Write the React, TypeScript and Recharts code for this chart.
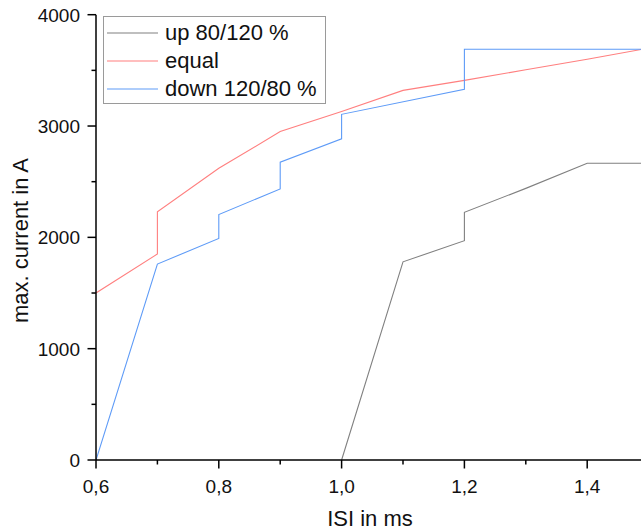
import { LineChart, Line, XAxis, YAxis, Legend } from "recharts";

// ISI (ms) and max. current (A) per series; repeated x values are the vertical steps
const upIsi = [1.0, 1.1, 1.2, 1.2, 1.3, 1.4, 1.5];
const upCurrent = [0, 1780, 1970, 2225, 2440, 2665, 2665];

const equalIsi = [0.6, 0.7, 0.7, 0.8, 0.9, 1.0, 1.1, 1.2, 1.3, 1.4, 1.5];
const equalCurrent = [1500, 1850, 2230, 2620, 2950, 3130, 3320, 3410, 3505, 3600, 3700];

const downIsi = [0.6, 0.7, 0.8, 0.8, 0.9, 0.9, 1.0, 1.0, 1.2, 1.2, 1.5];
const downCurrent = [0, 1760, 1990, 2205, 2435, 2675, 2885, 3105, 3330, 3690, 3690];

const xTicks = [0.6, 0.7, 0.8, 0.9, 1.0, 1.1, 1.2, 1.3, 1.4, 1.5];
const yTicks = [0, 500, 1000, 1500, 2000, 2500, 3000, 3500, 4000];

const seriesNames = ["up 80/120 %", "equal", "down 120/80 %"];
const seriesColors = ["#808080", "#ff7f7f", "#5e9bf7"];

const toPoints = (xs: number[], ys: number[]) => xs.map((x, i) => ({ x, y: ys[i] }));

const FONT = "'Liberation Sans', Arial, sans-serif";

const XTick = (props: any) => {
  const { x, y, payload } = props;
  const major = Math.round(payload.value * 10) % 2 === 0;
  return (
    <g>
      <line x1={x} x2={x} y1={y} y2={y + (major ? 8.5 : 4.5)} stroke="#000" strokeWidth={1.5} />
      {major && (
        <text x={x} y={y + 32.5} textAnchor="middle" fontSize={19} fontFamily={FONT} fill="#111">
          {payload.value.toFixed(1).replace(".", ",")}
        </text>
      )}
    </g>
  );
};

const YTick = (props: any) => {
  const { x, y, payload } = props;
  const major = payload.value % 1000 === 0;
  return (
    <g>
      <line x1={x} x2={x - (major ? 8.5 : 4.5)} y1={y} y2={y} stroke="#000" strokeWidth={1.5} />
      {major && (
        <text x={x - 16} y={y} dy="0.36em" textAnchor="end" fontSize={19} fontFamily={FONT} fill="#111">
          {payload.value}
        </text>
      )}
    </g>
  );
};

const XTitle = () => (
  <text x={370} y={526} textAnchor="middle" fontSize={22} fontFamily={FONT} fill="#111">
    ISI in ms
  </text>
);

const YTitle = () => (
  <text
    x={28}
    y={240.5}
    transform="rotate(-90 28 240.5)"
    textAnchor="middle"
    fontSize={22}
    fontFamily={FONT}
    fill="#111"
  >
    max. current in A
  </text>
);

const LegendBox = () => (
  <div
    style={{
      width: 223,
      height: 88,
      boxSizing: "border-box",
      border: "1px solid #9a9a9a",
      background: "#fff",
      paddingTop: 2,
      paddingLeft: 3,
      fontFamily: FONT,
      fontSize: 22,
      color: "#111",
      lineHeight: "28px",
    }}
  >
    {seriesNames.map((name, i) => (
      <div key={name} style={{ display: "flex", alignItems: "center", height: 28 }}>
        <svg width={51} height={4} style={{ marginRight: 7, display: "block" }}>
          <line x1={0} x2={51} y1={2} y2={2} stroke={seriesColors[i]} strokeWidth={1.2} />
        </svg>
        <span>{name}</span>
      </div>
    ))}
  </div>
);

export default function App() {
  return (
    <div style={{ position: "absolute", left: 0, top: 0, width: 641, height: 531, overflow: "hidden", background: "#fff" }}>
      <LineChart width={660} height={531} margin={{ top: 14.7, right: 11.4, left: 0, bottom: 0 }}>
        <XAxis
          type="number"
          dataKey="x"
          domain={[0.6, 1.5]}
          ticks={xTicks}
          interval={0}
          height={71}
          tickSize={0}
          tickMargin={0}
          tickLine={false}
          tick={<XTick />}
          axisLine={{ stroke: "#000", strokeWidth: 1.5 }}
          allowDataOverflow
          label={<XTitle />}
        />
        <YAxis
          type="number"
          domain={[0, 4000]}
          ticks={yTicks}
          interval={0}
          width={96}
          tickSize={0}
          tickMargin={0}
          tickLine={false}
          tick={<YTick />}
          axisLine={{ stroke: "#000", strokeWidth: 1.5 }}
          label={<YTitle />}
        />
        <Legend
          layout="vertical"
          verticalAlign="middle"
          align="center"
          content={<LegendBox />}
          wrapperStyle={{ left: 103, top: 16, width: 223, height: 88 }}
        />
        {[
          toPoints(upIsi, upCurrent),
          toPoints(equalIsi, equalCurrent),
          toPoints(downIsi, downCurrent),
        ].map((pts, i) => (
          <Line
            key={seriesNames[i]}
            data={pts}
            dataKey="y"
            name={seriesNames[i]}
            type="linear"
            stroke={seriesColors[i]}
            strokeWidth={1.1}
            dot={false}
            isAnimationActive={false}
          />
        ))}
      </LineChart>
    </div>
  );
}
